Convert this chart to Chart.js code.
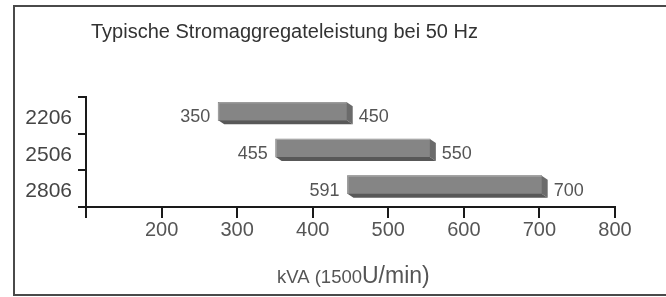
<!DOCTYPE html>
<html>
<head>
<meta charset="utf-8">
<script src="https://cdn.jsdelivr.net/npm/chart.js@4/dist/chart.umd.min.js"></script>
<style>
  html, body { margin: 0; padding: 0; background: #fff; }
  canvas { display: block; }
</style>
</head>
<body>
<canvas id="grafico" width="666" height="297"></canvas>
<script>
// ===================== DATEN =====================
const kategorien = ['2206', '2506', '2806'];
const balkenStart = [275, 351, 446];   // linke Kante, aus dem Bild gelesen
const balkenEnde = [445, 555, 703];    // rechte Kante (Vorderseite)
const labelsVon = ['350', '455', '591'];
const labelsBis = ['450', '550', '700'];
const xTicks = [100, 200, 300, 400, 500, 600, 700, 800];
const titel = 'Typische Stromaggregateleistung bei 50 Hz';
const achsenTitelKlein = 'kVA (1500';
const achsenTitelGross = 'U/min)';

const FONT = "'Liberation Sans', Arial, Helvetica, sans-serif";
const TIEFE_X = 6, TIEFE_Y = 4, VERSATZ = -4;

// ===================== PLUGINS =====================
const rahmenPlugin = {
    id: 'rahmen',
    beforeDraw(chart) {
        const ctx = chart.ctx;
        ctx.save();
        ctx.fillStyle = '#fff';
        ctx.fillRect(0, 0, chart.width, chart.height);
        ctx.strokeStyle = '#4a4a4a';
        ctx.lineWidth = 2;
        ctx.beginPath();
        ctx.moveTo(chart.width, 6);
        ctx.lineTo(14, 6);
        ctx.lineTo(14, 295);
        ctx.lineTo(chart.width, 295);
        ctx.stroke();
        ctx.restore();
    },
    afterDraw(chart) {
        const ctx = chart.ctx;
        ctx.save();
        // Titel
        ctx.fillStyle = '#333';
        ctx.font = '20px ' + FONT;
        ctx.textBaseline = 'alphabetic';
        ctx.fillText(titel, 91, 38);
        // Achsentitel mit zwei Schriftgrößen
        ctx.fillStyle = '#555';
        ctx.font = '18.5px ' + FONT;
        const x0 = 277;
        ctx.fillText(achsenTitelKlein, x0, 283);
        const w = ctx.measureText(achsenTitelKlein).width;
        ctx.font = '23px ' + FONT;
        ctx.fillText(achsenTitelGross, x0 + w, 283);
        ctx.restore();
    }
};

const balken3D = {
    id: 'balken3D',
    beforeDatasetsDraw(chart) {
        chart.ctx.save();
        chart.ctx.translate(0, VERSATZ);
    },
    afterDatasetsDraw(chart) {
        const ctx = chart.ctx;
        const meta = chart.getDatasetMeta(0);
        meta.data.forEach(bar => {
            const rechts = bar.x, links = bar.base;
            const oben = bar.y - bar.height / 2, unten = bar.y + bar.height / 2;
            // Seite
            ctx.fillStyle = '#6b6b6b';
            ctx.beginPath();
            ctx.moveTo(rechts, oben);
            ctx.lineTo(rechts + TIEFE_X, oben + TIEFE_Y);
            ctx.lineTo(rechts + TIEFE_X, unten + TIEFE_Y);
            ctx.lineTo(rechts, unten);
            ctx.closePath();
            ctx.fill();
            // Unterseite
            ctx.fillStyle = '#585858';
            ctx.beginPath();
            ctx.moveTo(links, unten);
            ctx.lineTo(links + TIEFE_X, unten + TIEFE_Y);
            ctx.lineTo(rechts + TIEFE_X, unten + TIEFE_Y);
            ctx.lineTo(rechts, unten);
            ctx.closePath();
            ctx.fill();
            // Lichtkante oben/links
            ctx.strokeStyle = '#a8a8a8';
            ctx.lineWidth = 1;
            ctx.beginPath();
            ctx.moveTo(links + 0.5, unten);
            ctx.lineTo(links + 0.5, oben + 0.5);
            ctx.lineTo(rechts, oben + 0.5);
            ctx.stroke();
        });
        ctx.restore();

        // Wertelabels
        ctx.save();
        ctx.font = '18px ' + FONT;
        ctx.fillStyle = '#555';
        ctx.textBaseline = 'middle';
        meta.data.forEach((bar, i) => {
            ctx.textAlign = 'right';
            ctx.fillText(labelsVon[i], bar.base - 8, bar.y + 2);
            ctx.textAlign = 'left';
            ctx.fillText(labelsBis[i], bar.x + TIEFE_X + 6, bar.y + 2);
        });
        ctx.restore();
    }
};

// ===================== DIAGRAMM =====================
const ctx = document.getElementById('grafico').getContext('2d');
new Chart(ctx, {
    type: 'bar',
    data: {
        labels: kategorien,
        datasets: [{
            data: balkenStart.map((s, i) => [s, balkenEnde[i]]),
            backgroundColor: '#858585',
            borderWidth: 0,
            barThickness: 18
        }]
    },
    options: {
        indexAxis: 'y',
        responsive: false,
        animation: false,
        devicePixelRatio: 1,
        layout: { padding: { left: 0, top: 97, right: 51, bottom: 30 } },
        plugins: { legend: { display: false }, tooltip: { enabled: false }, title: { display: false } },
        scales: {
            x: {
                type: 'linear',
                min: xTicks[0],
                max: xTicks[xTicks.length - 1],
                afterBuildTicks: axis => { axis.ticks = xTicks.map(v => ({ value: v })); },
                afterFit: axis => { axis.height = 60; },
                border: { display: true, color: '#1a1a1a', width: 2 },
                grid: { drawOnChartArea: false, drawTicks: true, tickLength: 11, color: '#1a1a1a', lineWidth: 2 },
                ticks: {
                    padding: 0,
                    color: '#555',
                    font: { family: FONT, size: 20 },
                    callback: v => (v === xTicks[0] ? '' : String(v))
                }
            },
            y: {
                afterFit: axis => { axis.width = 86; },
                border: { display: true, color: '#1a1a1a', width: 2 },
                grid: { offset: true, drawOnChartArea: false, drawTicks: true, tickLength: 8, color: '#1a1a1a', lineWidth: 2 },
                ticks: { padding: 6, labelOffset: 3, color: '#444', font: { family: FONT, size: 21 } }
            }
        }
    },
    plugins: [rahmenPlugin, balken3D]
});
</script>
</body>
</html>
